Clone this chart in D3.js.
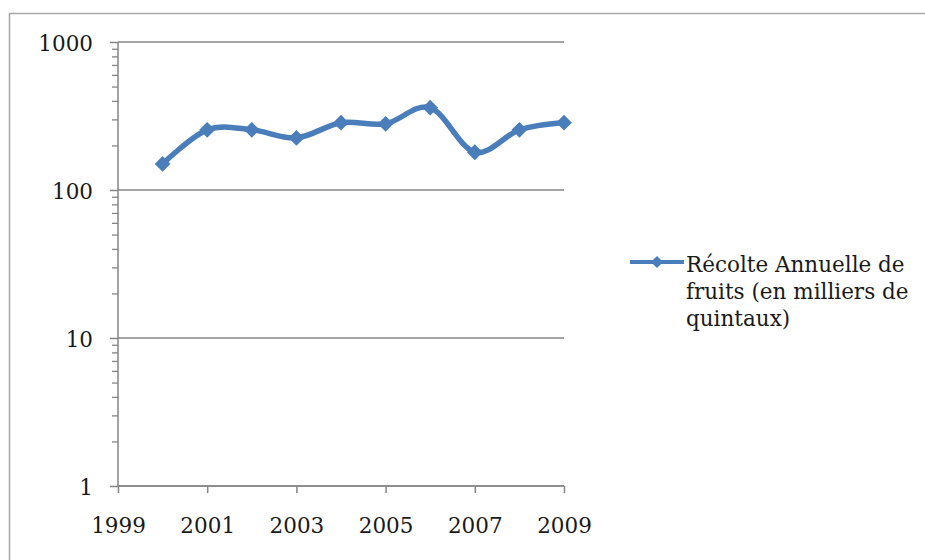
<!DOCTYPE html>
<html>
<head>
<meta charset="utf-8">
<script src="https://cdn.jsdelivr.net/npm/d3@7"></script>
<style>
  html, body { margin: 0; padding: 0; background: #fff; overflow: hidden; }
  svg { display: block; }
  text { font-family: "DejaVu Serif", "Liberation Serif", serif; fill: #1a1a1a; }
</style>
</head>
<body>
<svg id="chart" width="925" height="560"></svg>
<script>
// ---- data ----
const years = [2000, 2001, 2002, 2003, 2004, 2005, 2006, 2007, 2008, 2009];
const harvest = [150, 255, 255, 225, 285, 280, 360, 180, 255, 285];
const xTickLabels = [1999, 2001, 2003, 2005, 2007, 2009];
const yTickLabels = [1, 10, 100, 1000];
const seriesName = ["Récolte Annuelle de", "fruits (en milliers de", "quintaux)"];

// ---- layout ----
const svg = d3.select("#chart");
const fs = 21.5;
const blue = "#4a7ebb";
const axisGray = "#868686";

// chart frame (top and left edges visible; the rest runs off the picture)
svg.append("path")
  .attr("d", "M9.5,560V13.5H925")
  .attr("fill", "none").attr("stroke", "#a6a6a6").attr("stroke-width", 1.5);

const x = d3.scaleLinear().domain([1999, 2009]).range([118, 564]);
const y = d3.scaleLog().domain([1, 1000]).range([486, 42]);

// gridlines
svg.append("g").selectAll("line")
  .data(yTickLabels)
  .join("line")
  .attr("x1", x(1999)).attr("x2", x(2009))
  .attr("y1", d => y(d)).attr("y2", d => y(d))
  .attr("stroke", axisGray).attr("stroke-width", 1.5);

// minor ticks on y axis
const minor = y.ticks().filter(v => !yTickLabels.includes(v));
const yMinor = svg.append("g")
  .attr("transform", `translate(${x(1999)},0)`)
  .call(d3.axisLeft(y).tickValues(minor).tickSize(6).tickFormat(""));
yMinor.select(".domain").remove();
yMinor.selectAll("line").attr("stroke", axisGray).attr("stroke-width", 1.3);

// major y axis
const yAxis = svg.append("g")
  .attr("transform", `translate(${x(1999)},0)`)
  .call(d3.axisLeft(y).tickValues(yTickLabels).tickSize(8).tickPadding(17).tickFormat(d3.format("d")));
yAxis.attr("font-size", fs).attr("font-family", "DejaVu Serif");
yAxis.select(".domain").attr("stroke", axisGray).attr("stroke-width", 1.5)
  .attr("d", `M0,${y(1000)}V${y(1)}`);
yAxis.selectAll("line").attr("stroke", axisGray).attr("stroke-width", 1.5);
yAxis.selectAll("text").attr("font-size", fs).attr("dy", "0.4em").attr("fill", "#1a1a1a");

// x axis
const xAxis = svg.append("g")
  .attr("transform", `translate(0,${y(1)})`)
  .call(d3.axisBottom(x).tickValues(xTickLabels).tickSize(7).tickPadding(25).tickFormat(d3.format("d")));
xAxis.attr("font-size", fs).attr("font-family", "DejaVu Serif");
xAxis.select(".domain").attr("stroke", axisGray).attr("stroke-width", 1.5)
  .attr("d", `M${x(1999)},0H${x(2009)}`);
xAxis.selectAll("line").attr("stroke", axisGray).attr("stroke-width", 1.5);
xAxis.selectAll("text").attr("font-size", fs).attr("fill", "#1a1a1a");

// series line (smoothed)
const line = d3.line()
  .x((d, i) => x(years[i]))
  .y(d => y(d))
  .curve(d3.curveCatmullRom.alpha(0));

svg.append("path")
  .datum(harvest)
  .attr("d", line)
  .attr("fill", "none")
  .attr("stroke", blue)
  .attr("stroke-width", 5.5)
  .attr("stroke-linejoin", "round");

const diamond = d3.symbol().type(d3.symbolSquare).size(125);
svg.append("g").selectAll("path")
  .data(harvest)
  .join("path")
  .attr("d", diamond)
  .attr("transform", (d, i) => `translate(${x(years[i])},${y(d)}) rotate(45)`)
  .attr("fill", blue);

// legend
const lg = svg.append("g");
lg.append("line")
  .attr("x1", 630).attr("x2", 684).attr("y1", 262).attr("y2", 262)
  .attr("stroke", blue).attr("stroke-width", 4);
lg.append("path")
  .attr("d", d3.symbol().type(d3.symbolSquare).size(75))
  .attr("transform", "translate(657,262) rotate(45)")
  .attr("fill", blue);
lg.selectAll("text")
  .data(seriesName)
  .join("text")
  .attr("x", 686)
  .attr("y", (d, i) => 272 + i * 27)
  .attr("font-size", fs)
  .text(d => d);
</script>
</body>
</html>
